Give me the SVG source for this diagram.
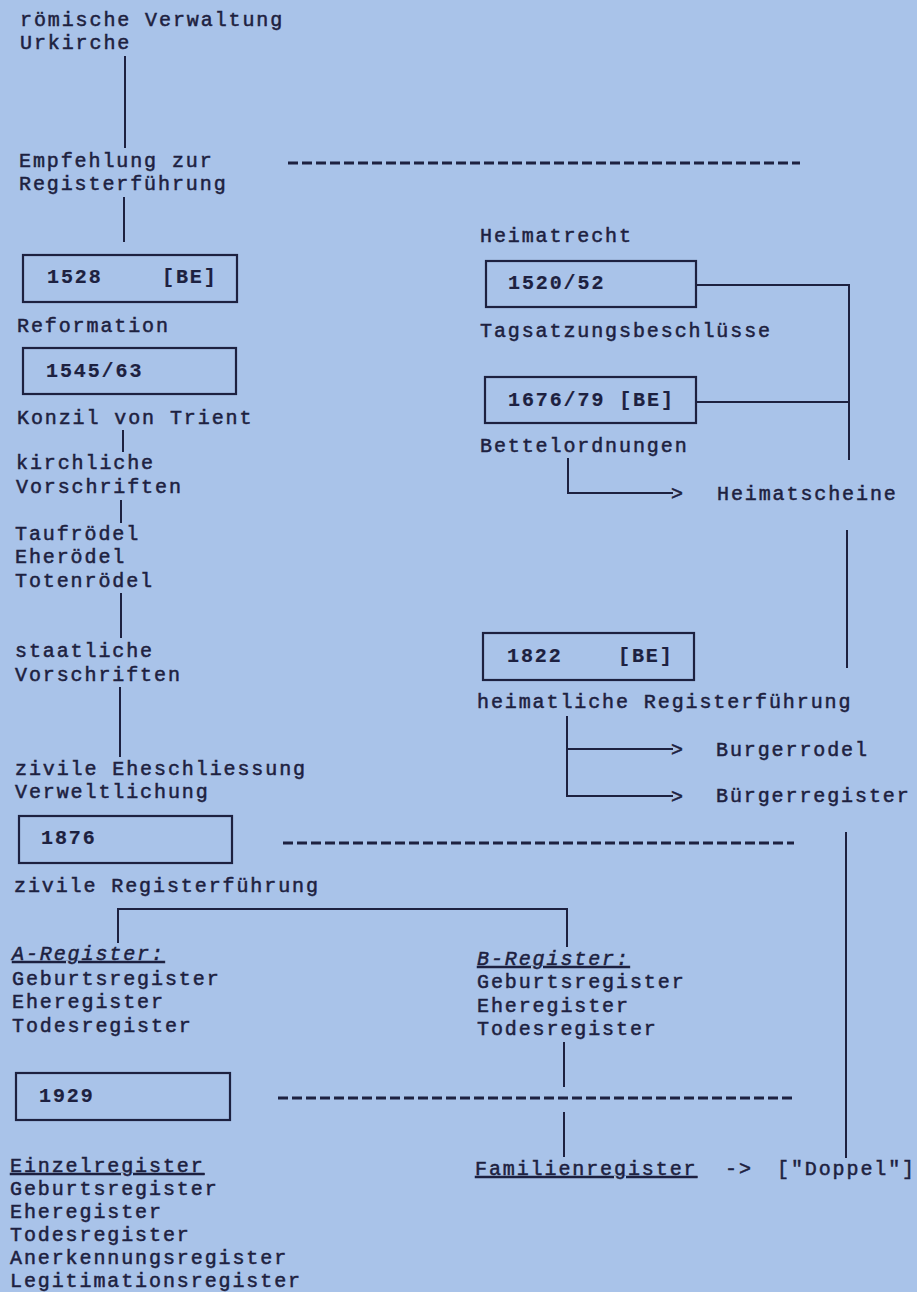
<svg xmlns="http://www.w3.org/2000/svg" width="917" height="1292" viewBox="0 0 917 1292">
<style>
text{font-family:"Liberation Mono","Courier New",monospace;font-size:20px;letter-spacing:1.9px;fill:#1d2140;stroke:#1d2140;stroke-width:0.5px}
.b{font-weight:bold;stroke-width:0.2px}
.i{font-style:italic}
.u{text-decoration:underline}
.box{fill:none;stroke:#1d2140;stroke-width:2.2}
.ln{fill:none;stroke:#1d2140;stroke-width:2}
.dash{fill:none;stroke:#1d2140;stroke-width:2.8;stroke-dasharray:10 4}
</style>
<rect width="917" height="1292" fill="#a9c3e9"/>

<g id="connectors">
<line class="ln" x1="125" y1="56" x2="125" y2="148"/>
<line class="ln" x1="124" y1="197" x2="124" y2="242"/>
<line class="dash" x1="288" y1="163" x2="800" y2="163"/>
<line class="ln" x1="123" y1="430" x2="123" y2="452"/>
<line class="ln" x1="121" y1="500" x2="121" y2="523"/>
<line class="ln" x1="121" y1="593" x2="121" y2="638"/>
<line class="ln" x1="120" y1="687" x2="120" y2="757"/>
<polyline class="ln" points="696,285 849,285 849,460"/>
<line class="ln" x1="696" y1="402" x2="849" y2="402"/>
<polyline class="ln" points="568,458 568,493 673,493"/>
<text x="671" y="500">&gt;</text>
<line class="ln" x1="847" y1="530" x2="847" y2="668"/>
<polyline class="ln" points="567,716 567,796 673,796"/>
<line class="ln" x1="567" y1="749" x2="673" y2="749"/>
<text x="671" y="756">&gt;</text>
<text x="671" y="803">&gt;</text>
<line class="dash" x1="283" y1="843" x2="794" y2="843"/>
<line class="ln" x1="846" y1="832" x2="846" y2="1158"/>
<polyline class="ln" points="118,943 118,909 567,909 567,947"/>
<line class="ln" x1="564" y1="1042" x2="564" y2="1087"/>
<line class="dash" x1="278" y1="1098" x2="794" y2="1098"/>
<line class="ln" x1="564" y1="1112" x2="564" y2="1157"/>
</g>

<g id="n-roemisch">
<text x="20" y="26">römische Verwaltung</text>
<text x="20" y="49">Urkirche</text>
</g>
<g id="n-empfehlung">
<text x="19" y="167">Empfehlung zur</text>
<text x="19" y="190">Registerführung</text>
</g>
<g id="n-1528">
<rect class="box" x="23" y="255" width="214" height="47"/>
<text class="b" x="47" y="283">1528</text>
<text class="b" x="162" y="283">[BE]</text>
<text x="17" y="332">Reformation</text>
</g>
<g id="n-1545">
<rect class="box" x="23" y="348" width="213" height="46"/>
<text class="b" x="46" y="377">1545/63</text>
<text x="17" y="424">Konzil von Trient</text>
</g>
<g id="n-kirchlich">
<text x="16" y="469">kirchliche</text>
<text x="16" y="493">Vorschriften</text>
</g>
<g id="n-roedel">
<text x="15" y="540">Taufrödel</text>
<text x="15" y="563">Eherödel</text>
<text x="15" y="587">Totenrödel</text>
</g>
<g id="n-staatlich">
<text x="15" y="657">staatliche</text>
<text x="15" y="681">Vorschriften</text>
</g>
<g id="n-zivil">
<text x="15" y="775">zivile Eheschliessung</text>
<text x="15" y="798">Verweltlichung</text>
</g>
<g id="n-1876">
<rect class="box" x="19" y="816" width="213" height="47"/>
<text class="b" x="41" y="844">1876</text>
<text x="14" y="892">zivile Registerführung</text>
</g>
<g id="n-a-register">
<text class="i u" x="12" y="960">A-Register:</text>
<text x="12" y="985">Geburtsregister</text>
<text x="12" y="1008">Eheregister</text>
<text x="12" y="1032">Todesregister</text>
</g>
<g id="n-b-register">
<text class="i u" x="477" y="965">B-Register:</text>
<text x="477" y="988">Geburtsregister</text>
<text x="477" y="1012">Eheregister</text>
<text x="477" y="1035">Todesregister</text>
</g>
<g id="n-1929">
<rect class="box" x="16" y="1073" width="214" height="47"/>
<text class="b" x="39" y="1102">1929</text>
</g>
<g id="n-einzel">
<text class="u" x="10" y="1172">Einzelregister</text>
<text x="10" y="1195">Geburtsregister</text>
<text x="10" y="1218">Eheregister</text>
<text x="10" y="1241">Todesregister</text>
<text x="10" y="1264">Anerkennungsregister</text>
<text x="10" y="1287">Legitimationsregister</text>
</g>
<g id="n-familien">
<text class="u" x="475" y="1175">Familienregister</text>
<text x="725" y="1175">-&gt;</text>
<text x="777" y="1175">["Doppel"]</text>
</g>
<g id="n-heimatrecht">
<text x="480" y="242">Heimatrecht</text>
</g>
<g id="n-1520">
<rect class="box" x="486" y="261" width="210" height="46"/>
<text class="b" x="508" y="289">1520/52</text>
<text x="480" y="337">Tagsatzungsbeschlüsse</text>
</g>
<g id="n-1676">
<rect class="box" x="485" y="377" width="211" height="46"/>
<text class="b" x="508" y="406">1676/79 [BE]</text>
<text x="480" y="452">Bettelordnungen</text>
</g>
<g id="n-heimatscheine">
<text x="717" y="500">Heimatscheine</text>
</g>
<g id="n-1822">
<rect class="box" x="483" y="633" width="211" height="47"/>
<text class="b" x="507" y="662">1822</text>
<text class="b" x="618" y="662">[BE]</text>
<text x="477" y="708">heimatliche Registerführung</text>
</g>
<g id="n-burgerrodel">
<text x="716" y="756">Burgerrodel</text>
</g>
<g id="n-buergerregister">
<text x="716" y="802">Bürgerregister</text>
</g>
</svg>
